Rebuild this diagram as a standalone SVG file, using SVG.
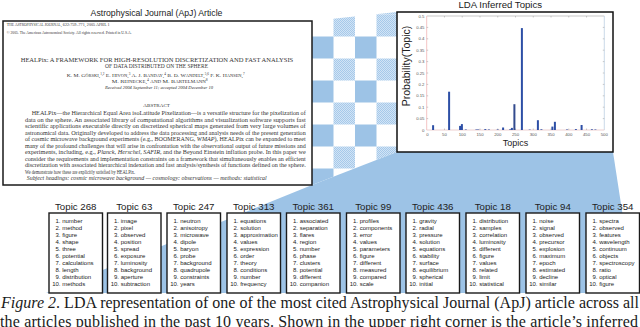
<svg xmlns="http://www.w3.org/2000/svg" width="640" height="327" viewBox="0 0 640 327">
<style>
.tt{font-family:"Liberation Sans",Arial,sans-serif;font-size:9.7px;fill:#222;text-anchor:middle}
.li{font-family:"Liberation Sans",Arial,sans-serif;font-size:6px;fill:#222}
.box{fill:#fff;stroke:#1a1a1a;stroke-width:1.4}
.ser{font-family:"Liberation Serif","Times New Roman",serif;fill:#333}
.bar{fill:#2d4fa6}
.tk{font-family:"Liberation Sans",Arial,sans-serif;font-size:4.3px;fill:#555}
.sol{fill:#9dc3e6}
.dot{fill:url(#dots)}
.cap{font-family:"Liberation Serif","Times New Roman",serif;font-size:16px;fill:#1a1a1a}
</style>
<defs>
<pattern id="dots" patternUnits="userSpaceOnUse" width="2" height="2">
<rect width="2" height="2" fill="#d2e4f5"/>
<rect width="1" height="1" fill="#a6c9ea"/>
<rect x="1" y="1" width="1" height="1" fill="#a6c9ea"/>
</pattern>
<clipPath id="proj"><polygon points="312,21 397,12 397,152 312,185"/></clipPath>
</defs>
<rect width="640" height="327" fill="#fff"/>
<g id="connectors">
<g clip-path="url(#proj)">
<rect class="dot" x="333.5" y="-7.5" width="21.5" height="22"/>
<rect class="dot" x="376.5" y="-7.5" width="21.5" height="22"/>
<rect class="dot" x="333.5" y="14.5" width="21.5" height="22"/>
<rect class="dot" x="376.5" y="14.5" width="21.5" height="22"/>
<rect class="sol" x="312" y="36.5" width="21.5" height="22"/>
<rect class="sol" x="355" y="36.5" width="21.5" height="22"/>
<rect class="dot" x="333.5" y="58.5" width="21.5" height="22"/>
<rect class="dot" x="376.5" y="58.5" width="21.5" height="22"/>
<rect class="sol" x="312" y="80.5" width="21.5" height="22"/>
<rect class="sol" x="355" y="80.5" width="21.5" height="22"/>
<rect class="dot" x="333.5" y="102.5" width="21.5" height="22"/>
<rect class="dot" x="376.5" y="102.5" width="21.5" height="22"/>
<rect class="sol" x="312" y="124.5" width="21.5" height="22"/>
<rect class="sol" x="355" y="124.5" width="21.5" height="22"/>
<rect class="dot" x="333.5" y="146.5" width="21.5" height="22"/>
<rect class="dot" x="376.5" y="146.5" width="21.5" height="22"/>
<rect class="sol" x="312" y="168.5" width="21.5" height="22"/>
<rect class="sol" x="355" y="168.5" width="21.5" height="22"/>
</g>
<polygon class="sol" points="312,185 397,152 613,152 634.7,293 46,293"/>
</g>
<g id="article">
<rect x="3" y="21" width="309" height="164" fill="#fff" stroke="#1a1a1a" stroke-width="1.5"/>
<text class="ser" x="156.5" y="16.3" style="font-family:'Liberation Sans',Arial,sans-serif;font-size:8.7px;fill:#222;text-anchor:middle">Astrophysical Journal (ApJ) Article</text>
<text class="ser" x="6.7" y="26" font-size="3.6" font-variant="small-caps" textLength="103" lengthAdjust="spacingAndGlyphs">The Astrophysical Journal, 622:759–771, 2005 April 1</text>
<text class="ser" x="6.7" y="34" font-size="3.6" textLength="125" lengthAdjust="spacingAndGlyphs">© 2005. The American Astronomical Society. All rights reserved. Printed in U.S.A.</text>
<text class="ser" x="20.7" y="61.7" font-size="6.2" textLength="272.5" lengthAdjust="spacingAndGlyphs">HEALPix: A FRAMEWORK FOR HIGH-RESOLUTION DISCRETIZATION AND FAST ANALYSIS</text>
<text class="ser" x="105" y="68.3" font-size="6.2" textLength="103" lengthAdjust="spacingAndGlyphs">OF DATA DISTRIBUTED ON THE SPHERE</text>
<text class="ser" x="66.7" y="77.3" font-size="5" font-variant="small-caps" textLength="178" lengthAdjust="spacingAndGlyphs">K. M. Górski,<tspan font-size="3" baseline-shift="super">1,2</tspan> E. Hivon,<tspan font-size="3" baseline-shift="super">3</tspan> A. J. Banday,<tspan font-size="3" baseline-shift="super">4</tspan> B. D. Wandelt,<tspan font-size="3" baseline-shift="super">5,6</tspan> F. K. Hansen,<tspan font-size="3" baseline-shift="super">7</tspan></text>
<text class="ser" x="111.7" y="83.3" font-size="5" font-variant="small-caps" textLength="96" lengthAdjust="spacingAndGlyphs">M. Reinecke,<tspan font-size="3" baseline-shift="super">4</tspan> and M. Bartelmann<tspan font-size="3" baseline-shift="super">8</tspan></text>
<text class="ser" x="105" y="89" font-size="4.4" font-style="italic" textLength="108" lengthAdjust="spacingAndGlyphs">Received 2004 September 11; accepted 2004 December 10</text>
<text class="ser" x="143.3" y="106.7" font-size="4.5" textLength="26.7" lengthAdjust="spacingAndGlyphs">ABSTRACT</text>
<g class="ser" font-size="5.4">
<text x="31.7" y="115" textLength="274" lengthAdjust="spacingAndGlyphs">HEALPix—the Hierarchical Equal Area isoLatitude Pixelization—is a versatile structure for the pixelization of</text>
<text x="25" y="121.5" textLength="280.7" lengthAdjust="spacingAndGlyphs">data on the sphere. An associated library of computational algorithms and visualization software supports fast</text>
<text x="25" y="128" textLength="280.7" lengthAdjust="spacingAndGlyphs">scientific applications executable directly on discretized spherical maps generated from very large volumes of</text>
<text x="25" y="134.5" textLength="280.7" lengthAdjust="spacingAndGlyphs">astronomical data. Originally developed to address the data processing and analysis needs of the present generation</text>
<text x="25" y="141" textLength="280.7" lengthAdjust="spacingAndGlyphs">of cosmic microwave background experiments (e.g., BOOMERANG, <tspan font-style="italic">WMAP</tspan>), HEALPix can be expanded to meet</text>
<text x="25" y="147.5" textLength="280.7" lengthAdjust="spacingAndGlyphs">many of the profound challenges that will arise in confrontation with the observational output of future missions and</text>
<text x="25" y="154" textLength="280.7" lengthAdjust="spacingAndGlyphs">experiments, including, e.g., <tspan font-style="italic">Planck</tspan>, <tspan font-style="italic">Herschel</tspan>, <tspan font-style="italic">SAFIR</tspan>, and the Beyond Einstein inflation probe. In this paper we</text>
<text x="25" y="160.5" textLength="280.7" lengthAdjust="spacingAndGlyphs">consider the requirements and implementation constraints on a framework that simultaneously enables an efficient</text>
<text x="25" y="167" textLength="280.7" lengthAdjust="spacingAndGlyphs">discretization with associated hierarchical indexation and fast analysis/synthesis of functions defined on the sphere.</text>
<text x="25" y="173.5" textLength="110" lengthAdjust="spacingAndGlyphs">We demonstrate how these are explicitly satisfied by HEALPix.</text>
<text x="26.7" y="180" font-style="italic" textLength="240" lengthAdjust="spacingAndGlyphs">Subject headings: cosmic microwave background — cosmology: observations — methods: statistical</text>
</g>
</g>
<g id="chart">
<text x="500.3" y="8" style="font-family:'Liberation Sans',Arial,sans-serif;font-size:9.6px;fill:#222;text-anchor:middle">LDA Inferred Topics</text>
<rect x="397" y="12" width="216" height="140" fill="#fff" stroke="#111" stroke-width="1.5"/>
<line x1="426.7" y1="16" x2="604.3" y2="16" stroke="#b0b0b0" stroke-width="0.7"/>
<line x1="604.3" y1="16" x2="604.3" y2="130" stroke="#b4c8e0" stroke-width="0.7"/>
<line x1="426.7" y1="16" x2="426.7" y2="130" stroke="#f0b4b4" stroke-width="0.8"/>
<line x1="426.7" y1="130" x2="604.3" y2="130" stroke="#e8c4c4" stroke-width="0.8"/>
<g stroke="#999" stroke-width="0.5">
<path d="M426.7 118.6h1.5M426.7 107.2h1.5M426.7 95.8h1.5M426.7 84.4h1.5M426.7 73h1.5M426.7 61.6h1.5M426.7 50.2h1.5M426.7 38.8h1.5M426.7 27.4h1.5"/>
<path d="M604.3 118.6h-1.5M604.3 107.2h-1.5M604.3 95.8h-1.5M604.3 84.4h-1.5M604.3 73h-1.5M604.3 61.6h-1.5M604.3 50.2h-1.5M604.3 38.8h-1.5M604.3 27.4h-1.5"/>
<path d="M444.46 130v-1.5M462.22 130v-1.5M479.98 130v-1.5M497.74 130v-1.5M515.5 130v-1.5M533.26 130v-1.5M551.02 130v-1.5M568.78 130v-1.5M586.54 130v-1.5"/>
<path d="M444.46 16v1.5M462.22 16v1.5M479.98 16v1.5M497.74 16v1.5M515.5 16v1.5M533.26 16v1.5M551.02 16v1.5M568.78 16v1.5M586.54 16v1.5"/>
</g>
<g class="tk" text-anchor="end">
<text x="424.5" y="131.5">0</text>
<text x="424.5" y="120.1">0.05</text>
<text x="424.5" y="108.7">0.1</text>
<text x="424.5" y="97.3">0.15</text>
<text x="424.5" y="85.9">0.2</text>
<text x="424.5" y="74.5">0.25</text>
<text x="424.5" y="63.1">0.3</text>
<text x="424.5" y="51.7">0.35</text>
<text x="424.5" y="40.3">0.4</text>
<text x="424.5" y="28.9">0.45</text>
<text x="424.5" y="17.5">0.5</text>
</g>
<g class="tk" text-anchor="middle">
<text x="427.5" y="135.5">0</text>
<text x="444.46" y="135.5">50</text>
<text x="462.22" y="135.5">100</text>
<text x="479.98" y="135.5">150</text>
<text x="497.74" y="135.5">200</text>
<text x="515.5" y="135.5">250</text>
<text x="533.26" y="135.5">300</text>
<text x="551.02" y="135.5">350</text>
<text x="568.78" y="135.5">400</text>
<text x="586.54" y="135.5">450</text>
<text x="604.3" y="135.5">500</text>
</g>
<g class="bar">
<rect x="432.1" y="125.2" width="2" height="4.8"/>
<rect x="448.1" y="91.7" width="2" height="38.3"/>
<rect x="459.1" y="125.9" width="2" height="4.1"/>
<rect x="460.9" y="124.1" width="2" height="5.9"/>
<rect x="464.8" y="129.5" width="2" height="0.5"/>
<rect x="475.4" y="129.5" width="2" height="0.5"/>
<rect x="477.2" y="129.5" width="2" height="0.5"/>
<rect x="484.3" y="129.1" width="2" height="0.9"/>
<rect x="487.9" y="129.5" width="2" height="0.5"/>
<rect x="496.7" y="129.5" width="2" height="0.5"/>
<rect x="502.1" y="127.5" width="2" height="2.5"/>
<rect x="509.2" y="129.3" width="2" height="0.7"/>
<rect x="510.9" y="127.9" width="2" height="2.1"/>
<rect x="513.4" y="104.2" width="2" height="25.8" fill="#334b8e"/>
<rect x="520.9" y="28.1" width="2" height="101.9"/>
<rect x="528.7" y="129.6" width="2" height="0.4"/>
<rect x="536.9" y="120.2" width="2" height="9.8"/>
<rect x="540.4" y="129.3" width="2" height="0.7"/>
<rect x="551.4" y="126.6" width="2" height="3.4"/>
<rect x="553.9" y="121.8" width="2" height="8.2"/>
<rect x="566" y="129.5" width="2" height="0.5"/>
<rect x="574.9" y="129.1" width="2" height="0.9"/>
<rect x="580.6" y="125" width="2" height="5"/>
<rect x="590.9" y="129.3" width="2" height="0.7"/>
<rect x="594.4" y="129.5" width="2" height="0.5"/>
</g>
<text transform="translate(410,66) rotate(-90)" style="font-family:'Liberation Sans',Arial,sans-serif;font-size:10.5px;fill:#222;text-anchor:middle">Probability(Topic)</text>
<text x="515.5" y="145.5" style="font-family:'Liberation Sans',Arial,sans-serif;font-size:9px;fill:#222;text-anchor:middle">Topics</text>
</g>
<g id="topic268">
<rect class="box" x="49" y="213" width="53.5" height="80"/>
<text class="tt" x="75.75" y="210">Topic 268</text>
<g class="li"><text x="55.5" y="223">1. number</text><text x="55.5" y="230">2. method</text><text x="55.5" y="237">3. figure</text><text x="55.5" y="244">4. shape</text><text x="55.5" y="251">5. three</text><text x="55.5" y="258">6. potential</text><text x="55.5" y="265">7. calculations</text><text x="55.5" y="272">8. length</text><text x="55.5" y="279">9. distribution</text><text x="52.2" y="286">10. methods</text></g>
</g>
<g id="topic63">
<rect class="box" x="107.5" y="213" width="53.5" height="80"/>
<text class="tt" x="134.25" y="210">Topic 63</text>
<g class="li"><text x="114" y="223">1. image</text><text x="114" y="230">2. pixel</text><text x="114" y="237">3. observed</text><text x="114" y="244">4. position</text><text x="114" y="251">5. spread</text><text x="114" y="258">6. exposure</text><text x="114" y="265">7. luminosity</text><text x="114" y="272">8. background</text><text x="114" y="279">9. aperture</text><text x="110.7" y="286">10. subtraction</text></g>
</g>
<g id="topic247">
<rect class="box" x="167" y="213" width="53.5" height="80"/>
<text class="tt" x="193.75" y="210">Topic 247</text>
<g class="li"><text x="173.5" y="223">1. neutron</text><text x="173.5" y="230">2. anisotropy</text><text x="173.5" y="237">3. microwave</text><text x="173.5" y="244">4. dipole</text><text x="173.5" y="251">5. baryon</text><text x="173.5" y="258">6. probe</text><text x="173.5" y="265">7. background</text><text x="173.5" y="272">8. quadrupole</text><text x="173.5" y="279">9. constraints</text><text x="170.2" y="286">10. years</text></g>
</g>
<g id="topic313">
<rect class="box" x="227" y="213" width="53.5" height="80"/>
<text class="tt" x="253.75" y="210">Topic 313</text>
<g class="li"><text x="233.5" y="223">1. equations</text><text x="233.5" y="230">2. solution</text><text x="233.5" y="237">3. approximation</text><text x="233.5" y="244">4. values</text><text x="233.5" y="251">5. expression</text><text x="233.5" y="258">6. order</text><text x="233.5" y="265">7. theory</text><text x="233.5" y="272">8. conditions</text><text x="233.5" y="279">9. number</text><text x="230.2" y="286">10. frequency</text></g>
</g>
<g id="topic361">
<rect class="box" x="286.5" y="213" width="53.5" height="80"/>
<text class="tt" x="313.25" y="210">Topic 361</text>
<g class="li"><text x="293" y="223">1. associated</text><text x="293" y="230">2. separation</text><text x="293" y="237">3. flares</text><text x="293" y="244">4. region</text><text x="293" y="251">5. number</text><text x="293" y="258">6. phase</text><text x="293" y="265">7. clusters</text><text x="293" y="272">8. potential</text><text x="293" y="279">9. different</text><text x="289.7" y="286">10. companion</text></g>
</g>
<g id="topic99">
<rect class="box" x="346.5" y="213" width="53.5" height="80"/>
<text class="tt" x="373.25" y="210">Topic 99</text>
<g class="li"><text x="353" y="223">1. profiles</text><text x="353" y="230">2. components</text><text x="353" y="237">3. error</text><text x="353" y="244">4. values</text><text x="353" y="251">5. parameters</text><text x="353" y="258">6. figure</text><text x="353" y="265">7. different</text><text x="353" y="272">8. measured</text><text x="353" y="279">9. compared</text><text x="349.7" y="286">10. scale</text></g>
</g>
<g id="topic436">
<rect class="box" x="406" y="213" width="53.5" height="80"/>
<text class="tt" x="432.75" y="210">Topic 436</text>
<g class="li"><text x="412.5" y="223">1. gravity</text><text x="412.5" y="230">2. radial</text><text x="412.5" y="237">3. pressure</text><text x="412.5" y="244">4. solution</text><text x="412.5" y="251">5. equations</text><text x="412.5" y="258">6. stability</text><text x="412.5" y="265">7. surface</text><text x="412.5" y="272">8. equilibrium</text><text x="412.5" y="279">9. spherical</text><text x="409.2" y="286">10. initial</text></g>
</g>
<g id="topic18">
<rect class="box" x="466" y="213" width="53.5" height="80"/>
<text class="tt" x="492.75" y="210">Topic 18</text>
<g class="li"><text x="472.5" y="223">1. distribution</text><text x="472.5" y="230">2. samples</text><text x="472.5" y="237">3. correlation</text><text x="472.5" y="244">4. luminosity</text><text x="472.5" y="251">5. different</text><text x="472.5" y="258">6. figure</text><text x="472.5" y="265">7. values</text><text x="472.5" y="272">8. related</text><text x="472.5" y="279">9. limit</text><text x="469.2" y="286">10. statistical</text></g>
</g>
<g id="topic94">
<rect class="box" x="526" y="213" width="53.5" height="80"/>
<text class="tt" x="552.75" y="210">Topic 94</text>
<g class="li"><text x="532.5" y="223">1. noise</text><text x="532.5" y="230">2. signal</text><text x="532.5" y="237">3. observed</text><text x="532.5" y="244">4. precursor</text><text x="532.5" y="251">5. explosion</text><text x="532.5" y="258">6. maximum</text><text x="532.5" y="265">7. epoch</text><text x="532.5" y="272">8. estimated</text><text x="532.5" y="279">9. decline</text><text x="529.2" y="286">10. similar</text></g>
</g>
<g id="topic354">
<rect class="box" x="586" y="213" width="53.5" height="80"/>
<text class="tt" x="612.75" y="210">Topic 354</text>
<g class="li"><text x="592.5" y="223">1. spectra</text><text x="592.5" y="230">2. observed</text><text x="592.5" y="237">3. features</text><text x="592.5" y="244">4. wavelength</text><text x="592.5" y="251">5. continuum</text><text x="592.5" y="258">6. objects</text><text x="592.5" y="265">7. spectroscopy</text><text x="592.5" y="272">8. ratio</text><text x="592.5" y="279">9. optical</text><text x="589.2" y="286">10. figure</text></g>
</g>
<g id="caption">
<text class="cap" x="1" y="308" textLength="638" lengthAdjust="spacing"><tspan font-style="italic">Figure 2</tspan>. LDA representation of one of the most cited Astrophysical Journal (ApJ) article across all</text>
<text class="cap" x="0" y="326.8" textLength="638" lengthAdjust="spacing">the articles published in the past 10 years. Shown in the upper right corner is the article’s inferred</text>
</g>
</svg>
